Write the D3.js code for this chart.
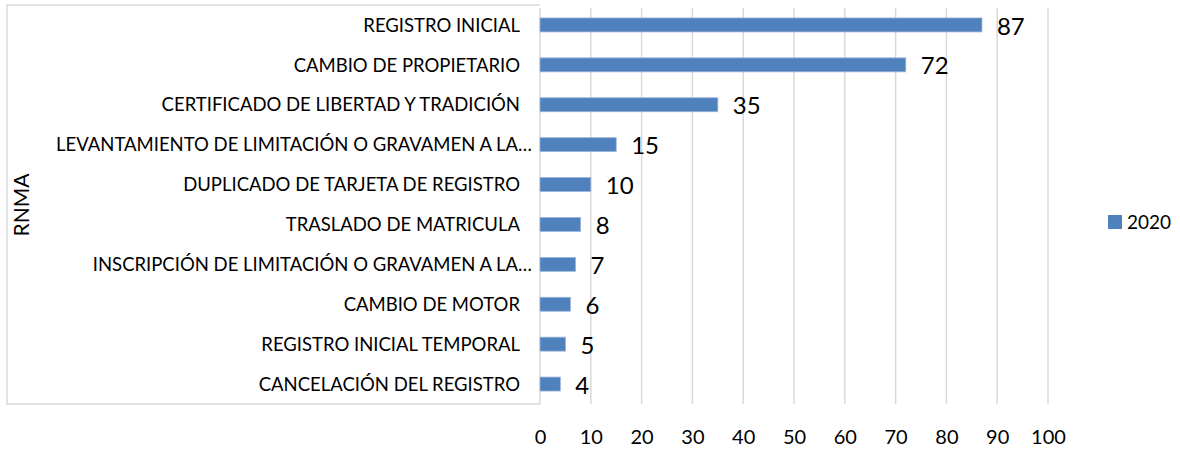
<!DOCTYPE html>
<html>
<head>
<meta charset="utf-8">
<script src="https://cdn.jsdelivr.net/npm/d3@7"></script>
<style>
  body { margin: 0; background: #fff; }
  svg { display: block; font-family: Lato, "Open Sans", sans-serif; }
</style>
</head>
<body>
<div id="chart"></div>
<script>
// data, top bar first
var categories = [
  "REGISTRO INICIAL",
  "CAMBIO DE PROPIETARIO",
  "CERTIFICADO DE LIBERTAD Y TRADICIÓN",
  "LEVANTAMIENTO DE LIMITACIÓN O GRAVAMEN A LA…",
  "DUPLICADO DE TARJETA DE REGISTRO",
  "TRASLADO DE MATRICULA",
  "INSCRIPCIÓN DE LIMITACIÓN O GRAVAMEN A LA…",
  "CAMBIO DE MOTOR",
  "REGISTRO INICIAL TEMPORAL",
  "CANCELACIÓN DEL REGISTRO"
];
var values2020 = [87, 72, 35, 15, 10, 8, 7, 6, 5, 4];
var xTicks = [0, 10, 20, 30, 40, 50, 60, 70, 80, 90, 100];
var groupLabel = "RNMA";
var seriesName = "2020";

// svg params
var svgWidth = 1180;
var svgHeight = 449;
var plot = { left: 540, right: 1048, top: 5, bottom: 404 };
var barColor = "#4F81BD";
var gridColor = "#d9d9d9";

var svg = d3.select("#chart").append("svg")
  .attr("width", svgWidth)
  .attr("height", svgHeight);

var data = categories.map((c, i) => ({ name: c, value: values2020[i] }));

// scales
var xScale = d3.scaleLinear()
  .domain([0, 100])
  .range([plot.left, plot.right]);

var yScale = d3.scaleBand()
  .domain(categories)
  .range([plot.top, plot.bottom])
  .paddingInner(0.65)
  .paddingOuter(0.325);

// gridlines (0 line doubles as the axis line)
svg.append("g")
  .selectAll("line")
  .data(xTicks)
  .enter()
  .append("line")
  .attr("x1", d => xScale(d))
  .attr("x2", d => xScale(d))
  .attr("y1", plot.top + 3)
  .attr("y2", plot.bottom)
  .attr("stroke", gridColor)
  .attr("stroke-width", 1.5);

// frame around the category labels (multi-level axis)
var frame = svg.append("g")
  .attr("stroke", gridColor)
  .attr("stroke-width", 1.5)
  .attr("fill", "none");
frame.append("path")
  .attr("d", `M${plot.left},${plot.top} H7 V${plot.bottom} H${plot.left}`);

// bottom axis, labels only
var bottomAxis = d3.axisBottom(xScale)
  .tickValues(xTicks)
  .tickSize(0)
  .tickPadding(0);
var xAxisG = svg.append("g")
  .attr("transform", `translate(0, ${plot.bottom + 26})`)
  .call(bottomAxis);
xAxisG.select(".domain").remove();
xAxisG.selectAll("text")
  .attr("font-family", "Lato, sans-serif")
  .attr("font-size", "20px")
  .attr("fill", "#000");

// left axis, category labels
var leftAxis = d3.axisLeft(yScale)
  .tickSize(0)
  .tickPadding(0);
var yAxisG = svg.append("g")
  .attr("transform", `translate(${plot.left - 20}, 0)`)
  .call(leftAxis);
yAxisG.select(".domain").remove();
yAxisG.selectAll("text")
  .attr("font-family", "Lato, sans-serif")
  .attr("font-size", "18.5px")
  .attr("fill", "#000")
  .attr("dy", "0.36em")
  .attr("x", d => d.endsWith("…") ? 12 : 0);

// bars
svg.append("g")
  .selectAll("rect")
  .data(data)
  .enter()
  .append("rect")
  .attr("x", xScale(0))
  .attr("y", d => yScale(d.name))
  .attr("width", d => xScale(d.value) - xScale(0))
  .attr("height", yScale.bandwidth())
  .attr("fill", barColor)
  .attr("stroke", "#9cb6da")
  .attr("stroke-width", 0.8);

// value labels
svg.append("g")
  .selectAll("text")
  .data(data)
  .enter()
  .append("text")
  .attr("x", d => xScale(d.value) + 15)
  .attr("y", d => yScale(d.name) + yScale.bandwidth() / 2 + 1)
  .attr("dy", "0.36em")
  .attr("font-size", "24px")
  .attr("fill", "#000")
  .text(d => d.value);

// axis group title
svg.append("text")
  .attr("transform", "rotate(-90)")
  .attr("x", -205)
  .attr("y", 21)
  .attr("dy", "0.36em")
  .attr("text-anchor", "middle")
  .attr("font-size", "21px")
  .attr("fill", "#000")
  .text(groupLabel);

// legend
var legend = svg.append("g")
  .attr("transform", "translate(1108, 215)");
legend.append("rect")
  .attr("width", 14)
  .attr("height", 14)
  .attr("fill", barColor);
legend.append("text")
  .attr("x", 19)
  .attr("y", 7)
  .attr("dy", "0.36em")
  .attr("font-size", "19px")
  .attr("fill", "#000")
  .text(seriesName);
</script>
</body>
</html>
